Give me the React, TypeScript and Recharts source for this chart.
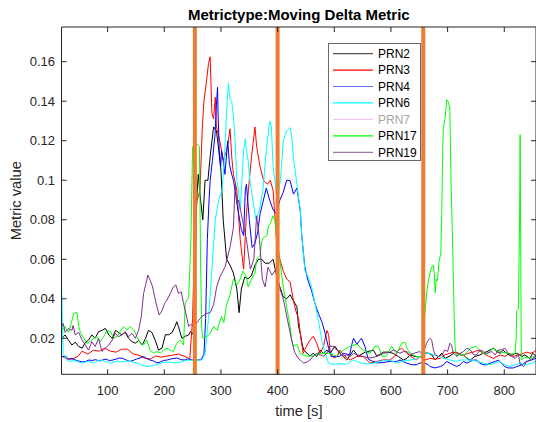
import { LineChart, Line, XAxis, YAxis, ReferenceLine, Legend } from "recharts";

const TIME_DOMAIN: [number, number] = [18.6, 856];
const VALUE_DOMAIN: [number, number] = [0.00178, 0.17756];
const TIME_TICKS = [100, 200, 300, 400, 500, 600, 700, 800];
const VALUE_TICKS = [0.02, 0.04, 0.06, 0.08, 0.1, 0.12, 0.14, 0.16];
const EVENT_TIMES = [254, 400, 657];

const TITLE = "Metrictype:Moving Delta Metric";
const X_LABEL = "time [s]";
const Y_LABEL = "Metric value";

// [time, value]
const prn2: [number, number][] = [
  [19, 0.02], [25, 0.0217], [31, 0.019], [37, 0.0166], [43, 0.018], [49, 0.0158], [55, 0.015], [61, 0.018],
  [66, 0.019], [72, 0.0217], [78, 0.02], [84, 0.0234], [90, 0.024], [96, 0.025], [102, 0.0217], [108, 0.02],
  [114, 0.024], [119, 0.023], [125, 0.0217], [131, 0.023], [137, 0.02], [143, 0.0183], [149, 0.0175], [155, 0.019],
  [161, 0.0166], [167, 0.02], [172, 0.024], [178, 0.023], [184, 0.019], [190, 0.014], [196, 0.015], [202, 0.0218],
  [208, 0.0218], [214, 0.023], [219, 0.026], [222, 0.0284], [225, 0.026], [231, 0.02], [237, 0.021], [243, 0.0217],
  [246, 0.0234], [251, 0.022], [254, 0.05], [257, 0.09], [260, 0.103], [264, 0.09], [268, 0.08], [272, 0.1],
  [277, 0.1], [281, 0.112], [287, 0.127], [292, 0.125], [295, 0.118], [300, 0.105], [304, 0.08], [310, 0.06],
  [316, 0.057], [322, 0.053], [328, 0.045], [332, 0.033], [336, 0.045], [342, 0.051], [348, 0.05], [354, 0.052],
  [360, 0.057], [366, 0.06], [372, 0.06], [378, 0.058], [385, 0.058], [392, 0.06], [398, 0.052], [404, 0.046],
  [410, 0.041], [416, 0.04], [422, 0.042], [428, 0.039], [434, 0.036], [437, 0.026], [440, 0.0225], [443, 0.0175],
  [446, 0.014], [452, 0.0124], [457, 0.011], [463, 0.0124], [469, 0.0108], [475, 0.014], [481, 0.0124], [487, 0.014],
  [493, 0.0124], [501, 0.016], [510, 0.0124], [522, 0.009], [534, 0.014], [542, 0.011], [555, 0.013], [569, 0.014],
  [575, 0.011], [587, 0.013], [595, 0.013], [604, 0.0124], [613, 0.0108], [622, 0.009], [628, 0.0098], [634, 0.0116],
  [640, 0.011], [648, 0.0105], [656, 0.011], [660, 0.0125], [666, 0.0125], [672, 0.0116], [678, 0.0091], [684, 0.0108],
  [690, 0.0125], [695, 0.0098], [704, 0.011], [710, 0.0124], [714, 0.013], [719, 0.0124], [722, 0.0116], [728, 0.0116],
  [734, 0.0098], [740, 0.009], [748, 0.0108], [757, 0.0116], [763, 0.0124], [775, 0.0141], [781, 0.015], [787, 0.0133],
  [793, 0.0124], [798, 0.014], [804, 0.0124], [812, 0.011], [819, 0.0124], [825, 0.012], [831, 0.0108], [836, 0.0116],
  [845, 0.0098], [850, 0.0124], [856, 0.011],
];

const prn3: [number, number][] = [
  [19, 0.011], [28, 0.0095], [38, 0.0095], [48, 0.011], [55, 0.0135], [65, 0.012], [75, 0.014], [85, 0.0135],
  [95, 0.015], [105, 0.0135], [115, 0.013], [125, 0.0145], [135, 0.0145], [145, 0.012], [155, 0.0115], [165, 0.01],
  [175, 0.0095], [185, 0.011], [195, 0.0105], [205, 0.011], [215, 0.0115], [225, 0.012], [235, 0.011], [245, 0.0095],
  [250, 0.03], [254, 0.075], [258, 0.09], [263, 0.095], [267, 0.126], [270, 0.14], [274, 0.149], [278, 0.159],
  [281, 0.1625], [284, 0.134], [287, 0.131], [290, 0.142], [292, 0.127], [298, 0.12], [304, 0.11], [310, 0.115],
  [313, 0.12], [316, 0.126], [319, 0.112], [322, 0.103], [328, 0.095], [334, 0.07], [340, 0.055], [345, 0.083],
  [350, 0.1], [354, 0.112], [360, 0.127], [363, 0.117], [369, 0.107], [375, 0.1], [382, 0.098], [387, 0.1],
  [392, 0.095], [398, 0.07], [404, 0.06], [410, 0.054], [416, 0.05], [422, 0.0485], [428, 0.039], [432, 0.034],
  [437, 0.03], [440, 0.0225], [445, 0.0124], [451, 0.016], [457, 0.019], [463, 0.021], [469, 0.0175], [475, 0.0124],
  [481, 0.016], [487, 0.024], [490, 0.022], [493, 0.0124], [500, 0.01], [505, 0.011], [510, 0.014], [518, 0.011],
  [528, 0.009], [540, 0.0108], [551, 0.0108], [563, 0.0074], [575, 0.0083], [587, 0.0091], [598, 0.009], [607, 0.011],
  [613, 0.014], [619, 0.015], [625, 0.0133], [634, 0.011], [640, 0.0098], [645, 0.009], [651, 0.0108], [660, 0.009],
  [669, 0.0098], [678, 0.0095], [687, 0.0098], [695, 0.0116], [704, 0.0124], [710, 0.013], [719, 0.0124], [728, 0.0116],
  [737, 0.0124], [745, 0.013], [754, 0.014], [763, 0.0124], [772, 0.011], [781, 0.0098], [787, 0.0108], [793, 0.0116],
  [801, 0.0108], [810, 0.0124], [816, 0.0108], [825, 0.0116], [834, 0.0124], [840, 0.013], [846, 0.0124], [852, 0.013],
  [856, 0.014],
];

const prn4: [number, number][] = [
  [19, 0.0107], [25, 0.011], [31, 0.0095], [37, 0.0098], [43, 0.009], [49, 0.0085], [55, 0.008], [61, 0.0083],
  [67, 0.009], [73, 0.0088], [79, 0.0092], [85, 0.0085], [91, 0.009], [97, 0.0095], [103, 0.0087], [109, 0.009],
  [115, 0.0095], [121, 0.01], [127, 0.0098], [133, 0.009], [139, 0.0083], [145, 0.0088], [151, 0.0095], [157, 0.01],
  [163, 0.0108], [169, 0.0098], [175, 0.009], [181, 0.0085], [187, 0.0075], [193, 0.008], [199, 0.0088], [205, 0.009],
  [211, 0.0095], [217, 0.0098], [223, 0.01], [229, 0.0092], [235, 0.009], [241, 0.0095], [247, 0.0092], [253, 0.0088],
  [259, 0.009], [265, 0.0092], [270, 0.012], [273, 0.03], [276, 0.07], [279, 0.09], [281, 0.1], [285, 0.11],
  [289.5, 0.123], [292, 0.138], [294, 0.147], [295, 0.133], [297, 0.115], [299.5, 0.107], [301, 0.115], [304, 0.11],
  [307, 0.103], [312, 0.12], [315, 0.108], [319, 0.103], [322, 0.1], [325, 0.095], [330, 0.085], [336, 0.075],
  [340, 0.072], [343, 0.095], [345, 0.098], [350, 0.08], [355, 0.066], [360, 0.068], [365, 0.074], [369, 0.083],
  [375, 0.09], [380, 0.096], [386, 0.09], [392, 0.085], [398, 0.083], [404, 0.09], [410, 0.094], [416, 0.1],
  [422, 0.0998], [428, 0.093], [434, 0.096], [440, 0.0846], [442.5, 0.0725], [448, 0.056], [454, 0.049], [460, 0.044],
  [466, 0.0376], [472, 0.0326], [478, 0.0284], [484, 0.0225], [490, 0.015], [495, 0.0107], [504, 0.0107], [510, 0.011],
  [516, 0.0124], [522, 0.012], [527, 0.0116], [531, 0.017], [534, 0.02], [540, 0.017], [545, 0.019], [548, 0.02],
  [554, 0.016], [560, 0.0094], [568, 0.0083], [575, 0.0075], [587, 0.0078], [599, 0.0083], [610, 0.0083], [616, 0.009],
  [628, 0.0074], [637, 0.0066], [645, 0.0066], [651, 0.0075], [660, 0.0074], [666, 0.0066], [669, 0.0057], [678, 0.005],
  [687, 0.0057], [693, 0.0066], [698, 0.0083], [704, 0.0074], [710, 0.0066], [716, 0.0057], [722, 0.0066], [728, 0.0083],
  [734, 0.0074], [740, 0.0083], [745, 0.009], [751, 0.009], [757, 0.0074], [763, 0.0066], [769, 0.0066], [775, 0.0074],
  [784, 0.0083], [790, 0.009], [795, 0.0074], [801, 0.0057], [807, 0.005], [816, 0.005], [822, 0.0057], [831, 0.0066],
  [839, 0.0083], [848, 0.009], [856, 0.0099],
];

const prn6: [number, number][] = [
  [18.6, 0.049], [20, 0.03], [21.6, 0.0124], [27.6, 0.009], [33, 0.0083], [39, 0.0086], [45, 0.0085], [51, 0.0078],
  [57, 0.0075], [63, 0.0083], [69, 0.008], [75, 0.0073], [81, 0.0085], [87, 0.009], [93, 0.0085], [99, 0.008],
  [105, 0.0074], [111, 0.008], [117, 0.0085], [123, 0.008], [129, 0.0083], [135, 0.0085], [141, 0.0082], [147, 0.0078],
  [153, 0.0075], [159, 0.0065], [165, 0.006], [171, 0.0058], [177, 0.006], [183, 0.0063], [189, 0.007], [195, 0.0075],
  [201, 0.0078], [207, 0.008], [213, 0.0078], [219, 0.0075], [225, 0.0078], [231, 0.008], [237, 0.0088], [243, 0.009],
  [249, 0.0088], [255, 0.0088], [261, 0.009], [266, 0.009], [272, 0.012], [278, 0.03], [284, 0.055], [290, 0.08],
  [296, 0.09], [302, 0.095], [306, 0.11], [310, 0.135], [313, 0.149], [316, 0.141], [319, 0.14], [322, 0.132],
  [325, 0.12], [328, 0.1], [331, 0.095], [334, 0.085], [340, 0.115], [343, 0.121], [345, 0.115], [348, 0.11],
  [351, 0.1], [356, 0.09], [362, 0.08], [368, 0.085], [374, 0.095], [380, 0.115], [386, 0.13], [389, 0.127],
  [392, 0.107], [395, 0.1], [399, 0.09], [405, 0.1], [410, 0.12], [416, 0.125], [422, 0.1266], [425, 0.122],
  [428, 0.111], [431, 0.105], [434, 0.098], [437, 0.091], [440, 0.085], [442.5, 0.0725], [445.4, 0.063], [448, 0.0544],
  [454, 0.051], [460, 0.046], [466, 0.0376], [472, 0.029], [478, 0.019], [484, 0.0124], [490, 0.0074], [498, 0.0068],
  [510, 0.0072], [522, 0.0068], [534, 0.009], [546, 0.0075], [558, 0.007], [570, 0.0074], [582, 0.0085], [598, 0.009],
  [610, 0.0074], [622, 0.0085], [634, 0.009], [645, 0.0095], [652, 0.0108], [660, 0.0124], [669, 0.0124], [675, 0.0116],
  [684, 0.0108], [692, 0.01], [704, 0.009], [716, 0.0083], [725, 0.0091], [734, 0.009], [743, 0.009], [752, 0.0083],
  [763, 0.0074], [775, 0.0066], [784, 0.0074], [792, 0.0083], [801, 0.0066], [810, 0.0057], [819, 0.0066], [828, 0.0074],
  [839, 0.0066], [848, 0.0074], [856, 0.0083],
];

const prn17: [number, number][] = [
  [19, 0.024], [25, 0.0259], [31, 0.023], [37, 0.029], [40, 0.0326], [46, 0.033], [49, 0.0259], [52, 0.023],
  [58, 0.02], [63.5, 0.0175], [69, 0.0183], [75, 0.02], [81, 0.0208], [87, 0.0183], [93, 0.0208], [99, 0.024],
  [105, 0.0234], [110.6, 0.02], [116.5, 0.0208], [122, 0.0234], [128, 0.0259], [134, 0.0242], [140, 0.0259], [146, 0.0242],
  [152, 0.0208], [158, 0.0175], [163.5, 0.0166], [169, 0.0191], [175, 0.014], [181, 0.0125], [187, 0.0133], [193, 0.0125],
  [199, 0.014], [204.7, 0.015], [210.5, 0.014], [216, 0.0133], [222, 0.0175], [228, 0.0191], [234, 0.0166], [237, 0.038],
  [243, 0.0405], [247, 0.07], [250, 0.117], [255, 0.118], [259, 0.118], [262, 0.117], [264, 0.06], [266, 0.025],
  [268, 0.02], [275, 0.021], [280, 0.022], [287, 0.026], [293, 0.024], [301, 0.031], [305, 0.028], [310, 0.037],
  [316, 0.042], [319, 0.046], [322, 0.05], [328, 0.047], [334, 0.05], [339, 0.054], [345, 0.051], [348, 0.046],
  [354, 0.05], [360, 0.053], [363, 0.06], [369, 0.062], [372, 0.069], [375, 0.071], [381, 0.072], [384, 0.077],
  [387, 0.078], [392, 0.082], [395, 0.08], [399, 0.07], [404, 0.059], [410, 0.046], [416, 0.036], [422, 0.026],
  [425, 0.019], [428, 0.016], [434, 0.017], [440, 0.0124], [451, 0.011], [463, 0.011], [475, 0.0124], [492, 0.0124],
  [504, 0.011], [516, 0.014], [528, 0.016], [540, 0.017], [551, 0.014], [563, 0.0124], [572, 0.016], [578, 0.016],
  [584, 0.011], [592, 0.011], [601, 0.016], [610, 0.0124], [619, 0.0175], [625, 0.018], [628, 0.015], [634, 0.0125],
  [645, 0.0108], [652, 0.0108], [656, 0.012], [658, 0.024], [660, 0.0326], [663, 0.0427], [666, 0.049], [669, 0.053],
  [672, 0.0562], [675, 0.057], [677, 0.051], [678, 0.043], [680, 0.05], [682, 0.049], [685, 0.059], [688, 0.063],
  [689.6, 0.083], [691.4, 0.116], [692.5, 0.126], [695.5, 0.1314], [698.4, 0.1407], [701, 0.14], [704, 0.136], [706, 0.099],
  [708.4, 0.074], [711.4, 0.034], [713, 0.016], [716, 0.0108], [722, 0.012], [730, 0.0115], [740, 0.015], [750, 0.016],
  [757, 0.014], [764, 0.012], [772, 0.0125], [780, 0.015], [786, 0.014], [795, 0.013], [804, 0.0125], [812, 0.012],
  [819, 0.0124], [821, 0.02], [822, 0.034], [825, 0.035], [827, 0.08], [828, 0.123], [829, 0.07], [830, 0.009],
  [836, 0.0105], [845, 0.01], [856, 0.011],
];

const prn19: [number, number][] = [
  [19, 0.026], [21.6, 0.0275], [25, 0.023], [31, 0.025], [37, 0.024], [39, 0.0265], [43, 0.0217], [49, 0.023],
  [55, 0.019], [60.6, 0.0166], [66.5, 0.014], [72, 0.0183], [78, 0.0158], [84, 0.02], [90, 0.0133], [96, 0.015],
  [102, 0.0166], [108, 0.019], [113.5, 0.0225], [119, 0.0208], [125, 0.0217], [131, 0.0234], [137, 0.0208], [143, 0.0225],
  [149, 0.02], [154.7, 0.024], [159.4, 0.031], [163.5, 0.0427], [167.6, 0.0477], [171, 0.052], [175, 0.0494], [179.4, 0.046],
  [183, 0.041], [187, 0.036], [191, 0.0318], [196, 0.034], [200.5, 0.0376], [204.7, 0.0393], [210.5, 0.0427], [216, 0.046],
  [220.5, 0.047], [225, 0.0427], [230, 0.0435], [234, 0.0376], [238, 0.0326], [243, 0.026], [246, 0.027], [252, 0.026],
  [260.5, 0.029], [266, 0.031], [275, 0.0326], [281, 0.033], [287, 0.037], [292.5, 0.046], [298, 0.051], [307, 0.056],
  [316, 0.066], [322, 0.076], [325, 0.098], [328, 0.088], [331, 0.09], [338, 0.08], [345, 0.07], [352, 0.055],
  [358, 0.06], [363, 0.082], [368, 0.07], [373, 0.05], [378, 0.046], [383, 0.056], [390, 0.052], [397, 0.055],
  [403, 0.046], [410, 0.04], [417, 0.03], [424, 0.02], [430, 0.013], [436, 0.01], [442, 0.0085], [446, 0.0074],
  [452, 0.008], [457, 0.009], [463, 0.011], [469, 0.0124], [475, 0.0116], [481, 0.011], [487, 0.0124], [492.5, 0.016],
  [498, 0.016], [504, 0.0141], [510, 0.0124], [516, 0.0108], [522, 0.0116], [528, 0.0108], [534, 0.0124], [540, 0.0116],
  [551, 0.0108], [563, 0.01], [575, 0.0108], [587, 0.0124], [598, 0.013], [604, 0.0141], [610, 0.0133], [616, 0.0124],
  [622, 0.0133], [628, 0.0133], [634, 0.0116], [640, 0.0124], [651, 0.0133], [656, 0.012], [663, 0.0175], [666, 0.019],
  [669, 0.02], [672, 0.019], [675, 0.0141], [678, 0.0116], [684, 0.0108], [690, 0.0116], [695, 0.0141], [700, 0.0133],
  [704, 0.0175], [707, 0.0166], [710, 0.0124], [716, 0.011], [722, 0.0124], [728, 0.0133], [734, 0.015], [740, 0.0141],
  [746, 0.0116], [751, 0.0116], [757, 0.0141], [763, 0.0133], [769, 0.0124], [778, 0.0133], [784, 0.0116], [789.5, 0.0141],
  [795, 0.0141], [801, 0.015], [807, 0.0124], [813, 0.011], [819, 0.0098], [825, 0.0116], [828, 0.007], [834, 0.0057],
  [839, 0.008], [845, 0.009], [850, 0.0098], [856, 0.011],
];

// PRN7 is switched off in the figure: legend entry only
const SERIES = [
  { name: "PRN2", color: "#000000", key: "#555555", points: prn2 },
  { name: "PRN3", color: "#FF0000", key: "#FF0000", points: prn3 },
  { name: "PRN4", color: "#0000FF", key: "#6B6BFF", points: prn4 },
  { name: "PRN6", color: "#00FFFF", key: "#00FFFF", points: prn6 },
  { name: "PRN7", color: "#FF00FF", key: "#F7C6F5", points: [] as [number, number][], off: true },
  { name: "PRN17", color: "#00FF00", key: "#00FF00", points: prn17 },
  { name: "PRN19", color: "#7E2F8E", key: "#9C77A6", points: prn19 },
];

const AXIS = "#262626";
const FONT = '"Liberation Sans", Arial, Helvetica, sans-serif';

const fmt = (v: number) => String(Number(v.toFixed(2)));

function BottomTick({ x, y, payload }: any) {
  return (
    <g>
      <line x1={x} x2={x} y1={y} y2={y - 5} stroke={AXIS} />
      <text x={x} y={y + 21} textAnchor="middle" fontSize={13} fill={AXIS} fontFamily={FONT}>
        {payload.value}
      </text>
    </g>
  );
}

function TopTick({ x, y }: any) {
  return <line x1={x} x2={x} y1={y} y2={y + 5} stroke={AXIS} />;
}

function LeftTick({ x, y, payload }: any) {
  return (
    <g>
      <line x1={x} x2={x + 5} y1={y} y2={y} stroke={AXIS} />
      <text x={x - 6.5} y={y} dy="0.35em" textAnchor="end" fontSize={13} fill={AXIS} fontFamily={FONT}>
        {fmt(payload.value)}
      </text>
    </g>
  );
}

function RightTick({ x, y }: any) {
  return <line x1={x} x2={x - 5} y1={y} y2={y} stroke={AXIS} />;
}

function PlacedText({ tx, ty, text, size, bold, rotate }: any) {
  return (
    <text
      x={tx}
      y={ty}
      textAnchor="middle"
      fontSize={size}
      fontWeight={bold ? "bold" : "normal"}
      fill={bold ? "#000" : AXIS}
      fontFamily={FONT}
      transform={rotate ? `rotate(-90 ${tx} ${ty})` : undefined}
    >
      {text}
    </text>
  );
}

function LegendBox() {
  return (
    <div
      style={{
        width: 93,
        height: 118,
        boxSizing: "border-box",
        border: "1px solid #6b6b6b",
        background: "#fff",
      }}
    >
      <svg width={91} height={116} style={{ display: "block" }}>
        {SERIES.map((s, i) => {
          const cy = 9.6 + i * 16.45;
          return (
            <g key={s.name}>
              <line x1={4} x2={44} y1={cy} y2={cy} stroke={s.key} strokeWidth={1.2} />
              <text x={49} y={cy + 4.3} fontSize={12} fontFamily={FONT} fill={s.off ? "#A6A6A6" : "#000"}>
                {s.name}
              </text>
            </g>
          );
        })}
      </svg>
    </div>
  );
}

export default function App() {
  return (
    <div style={{ position: "absolute", left: 0, top: 0, width: 536, height: 422, background: "#fff" }}>
      <LineChart width={536} height={422} margin={{ top: 26, right: -1, bottom: 0, left: 0 }}>
        <XAxis
          xAxisId="bottom"
          type="number"
          dataKey="t"
          domain={TIME_DOMAIN}
          allowDataOverflow
          ticks={TIME_TICKS}
          interval={0}
          height={47.7}
          tickSize={0}
          tickMargin={0}
          tickLine={false}
          axisLine={{ stroke: AXIS }}
          tick={(p: any) => <BottomTick {...p} />}
          label={<PlacedText tx={298.8} ty={415.7} text={X_LABEL} size={14.7} />}
        />
        <XAxis
          xAxisId="top"
          orientation="top"
          type="number"
          dataKey="t"
          domain={TIME_DOMAIN}
          allowDataOverflow
          ticks={TIME_TICKS}
          interval={0}
          height={1}
          tickSize={0}
          tickMargin={0}
          tickLine={false}
          axisLine={{ stroke: AXIS }}
          tick={(p: any) => <TopTick {...p} />}
          label={<PlacedText tx={298.8} ty={19.5} text={TITLE} size={15} bold />}
        />
        <YAxis
          yAxisId="left"
          type="number"
          domain={VALUE_DOMAIN}
          allowDataOverflow
          ticks={VALUE_TICKS}
          interval={0}
          width={61.5}
          tickSize={0}
          tickMargin={0}
          tickLine={false}
          axisLine={{ stroke: AXIS }}
          tick={(p: any) => <LeftTick {...p} />}
          label={<PlacedText tx={21.5} ty={200.7} text={Y_LABEL} size={14.7} rotate />}
        />
        <YAxis
          yAxisId="right"
          orientation="right"
          type="number"
          domain={VALUE_DOMAIN}
          allowDataOverflow
          ticks={VALUE_TICKS}
          interval={0}
          width={1}
          tickSize={0}
          tickMargin={0}
          tickLine={false}
          axisLine={{ stroke: AXIS }}
          tick={(p: any) => <RightTick {...p} />}
        />
        {SERIES.filter((s) => !s.off).map((s) => (
          <Line
            key={s.name}
            name={s.name}
            xAxisId="bottom"
            yAxisId="left"
            data={s.points.map(([t, v]) => ({ t, v }))}
            dataKey="v"
            type="linear"
            stroke={s.color}
            strokeWidth={1}
            dot={false}
            activeDot={false}
            isAnimationActive={false}
          />
        ))}
        {EVENT_TIMES.map((t) => (
          <ReferenceLine
            key={t}
            x={t}
            xAxisId="bottom"
            yAxisId="left"
            stroke="#ED7D31"
            strokeWidth={4}
          />
        ))}
        <Legend
          layout="vertical"
          align="center"
          verticalAlign="middle"
          content={() => <LegendBox />}
          wrapperStyle={{ left: 328, top: 43, width: 93, height: 118 }}
        />
      </LineChart>
    </div>
  );
}
